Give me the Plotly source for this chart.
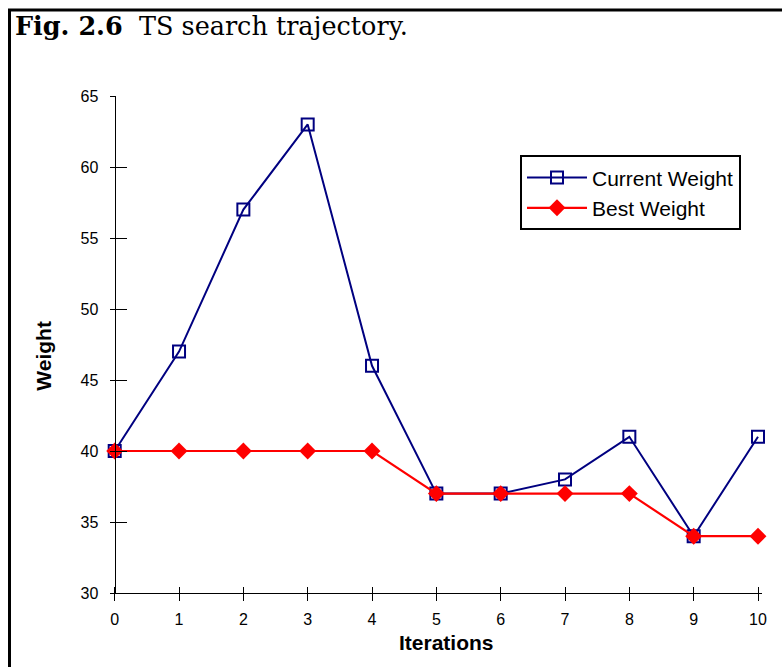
import plotly.graph_objects as go

# ---- data ----
iterations = [0, 1, 2, 3, 4, 5, 6, 7, 8, 9, 10]
current_weight = [40, 47, 57, 63, 46, 37, 37, 38, 41, 34, 41]
best_weight = [40, 40, 40, 40, 40, 37, 37, 37, 37, 34, 34]
y_ticks = [30, 35, 40, 45, 50, 55, 60, 65]

W, H = 782, 667
# pixel geometry of the plot area
L, R, T, B = 110, 762, 95.6, 593
X0PX, X10PX = 114.7, 758
upx = (X10PX - X0PX) / 10
xr = [-(X0PX - L) / upx, 10 + (R - X10PX) / upx]


def px_x(p):
    return (p - L) / (R - L)


def px_y(p):
    return (B - p) / (B - T)


yaxis_pos = px_x(X0PX)

FONT = "Arial, Liberation Sans, sans-serif"
NAVY = "#000080"
RED = "#ff0000"

fig = go.Figure()
# invisible trace on twin axes that carry the outer halves of the ticks
fig.add_trace(go.Scatter(x=[0], y=[30], xaxis="x2", yaxis="y2", mode="markers",
                         marker=dict(opacity=0), showlegend=False, hoverinfo="skip"))
fig.add_trace(go.Scatter(
    x=iterations, y=current_weight, name="Current Weight",
    mode="lines+markers", cliponaxis=False,
    line=dict(color=NAVY, width=2),
    marker=dict(symbol="square-open", size=12, color=NAVY, line=dict(color=NAVY, width=2)),
))
fig.add_trace(go.Scatter(
    x=iterations, y=best_weight, name="Best Weight",
    mode="lines+markers", cliponaxis=False,
    line=dict(color=RED, width=2.2),
    marker=dict(symbol="diamond", size=13, color=RED),
))

fig.update_layout(
    width=W, height=H,
    margin=dict(l=L, r=W - R, t=T, b=H - B, pad=0),
    paper_bgcolor="white", plot_bgcolor="rgba(0,0,0,0)",
    font=dict(family=FONT, size=16, color="black"),
    showlegend=True,
    xaxis=dict(range=xr, tickvals=iterations, ticks="inside", ticklen=6, tickwidth=1.3,
               tickcolor="black", showline=True, linecolor="black", linewidth=1.3,
               showgrid=False, zeroline=False, anchor="y",
               tickfont=dict(size=16), ticklabelstandoff=12),
    yaxis=dict(range=[30, 65], tickvals=y_ticks, ticks="inside", ticklen=11, tickwidth=1.3,
               tickcolor="black", showline=True, linecolor="black", linewidth=1.3,
               showgrid=False, zeroline=False, anchor="free", position=yaxis_pos,
               tickfont=dict(size=16), ticklabelstandoff=13),
    xaxis2=dict(range=xr, overlaying="x", tickvals=iterations, ticks="outside", ticklen=7,
                tickwidth=1.3, tickcolor="black", showticklabels=False, showline=False,
                showgrid=False, zeroline=False, anchor="y", side="bottom"),
    yaxis2=dict(range=[30, 65], overlaying="y", tickvals=y_ticks, ticks="outside", ticklen=5,
                tickwidth=1.3, tickcolor="black", showticklabels=False, showline=False,
                showgrid=False, zeroline=False, anchor="free", position=yaxis_pos, side="left"),
    legend=dict(x=px_x(520), y=px_y(155), xanchor="left", yanchor="top",
                bgcolor="white", bordercolor="black", borderwidth=2,
                font=dict(family=FONT, size=21, color="black"),
                itemsizing="trace", tracegroupgap=0, itemwidth=60),
)

fig.add_annotation(text="<b>Weight</b>", textangle=-90, showarrow=False,
                   xref="paper", yref="paper", x=px_x(43.5), y=px_y(356),
                   xanchor="center", yanchor="middle", font=dict(family=FONT, size=21))
fig.add_annotation(text="<b>Iterations</b>", showarrow=False,
                   xref="paper", yref="paper", x=px_x(446), y=px_y(643),
                   xanchor="center", yanchor="middle", font=dict(family=FONT, size=21))
fig.add_annotation(text="<b>Fig. 2.6</b>  TS search trajectory.", showarrow=False,
                   xref="paper", yref="paper", x=px_x(13), y=px_y(26),
                   xanchor="left", yanchor="middle",
                   font=dict(family="DejaVu Serif, serif", size=25.5, color="black"))

# figure frame
fig.add_shape(type="rect", xref="paper", yref="paper",
              x0=px_x(9.5), x1=px_x(820), y0=px_y(700), y1=px_y(9.5),
              line=dict(color="black", width=3), fillcolor="rgba(0,0,0,0)", layer="above")

fig.write_html("out.html", config={"displayModeBar": False},
               post_script="document.body.style.margin='0';")
